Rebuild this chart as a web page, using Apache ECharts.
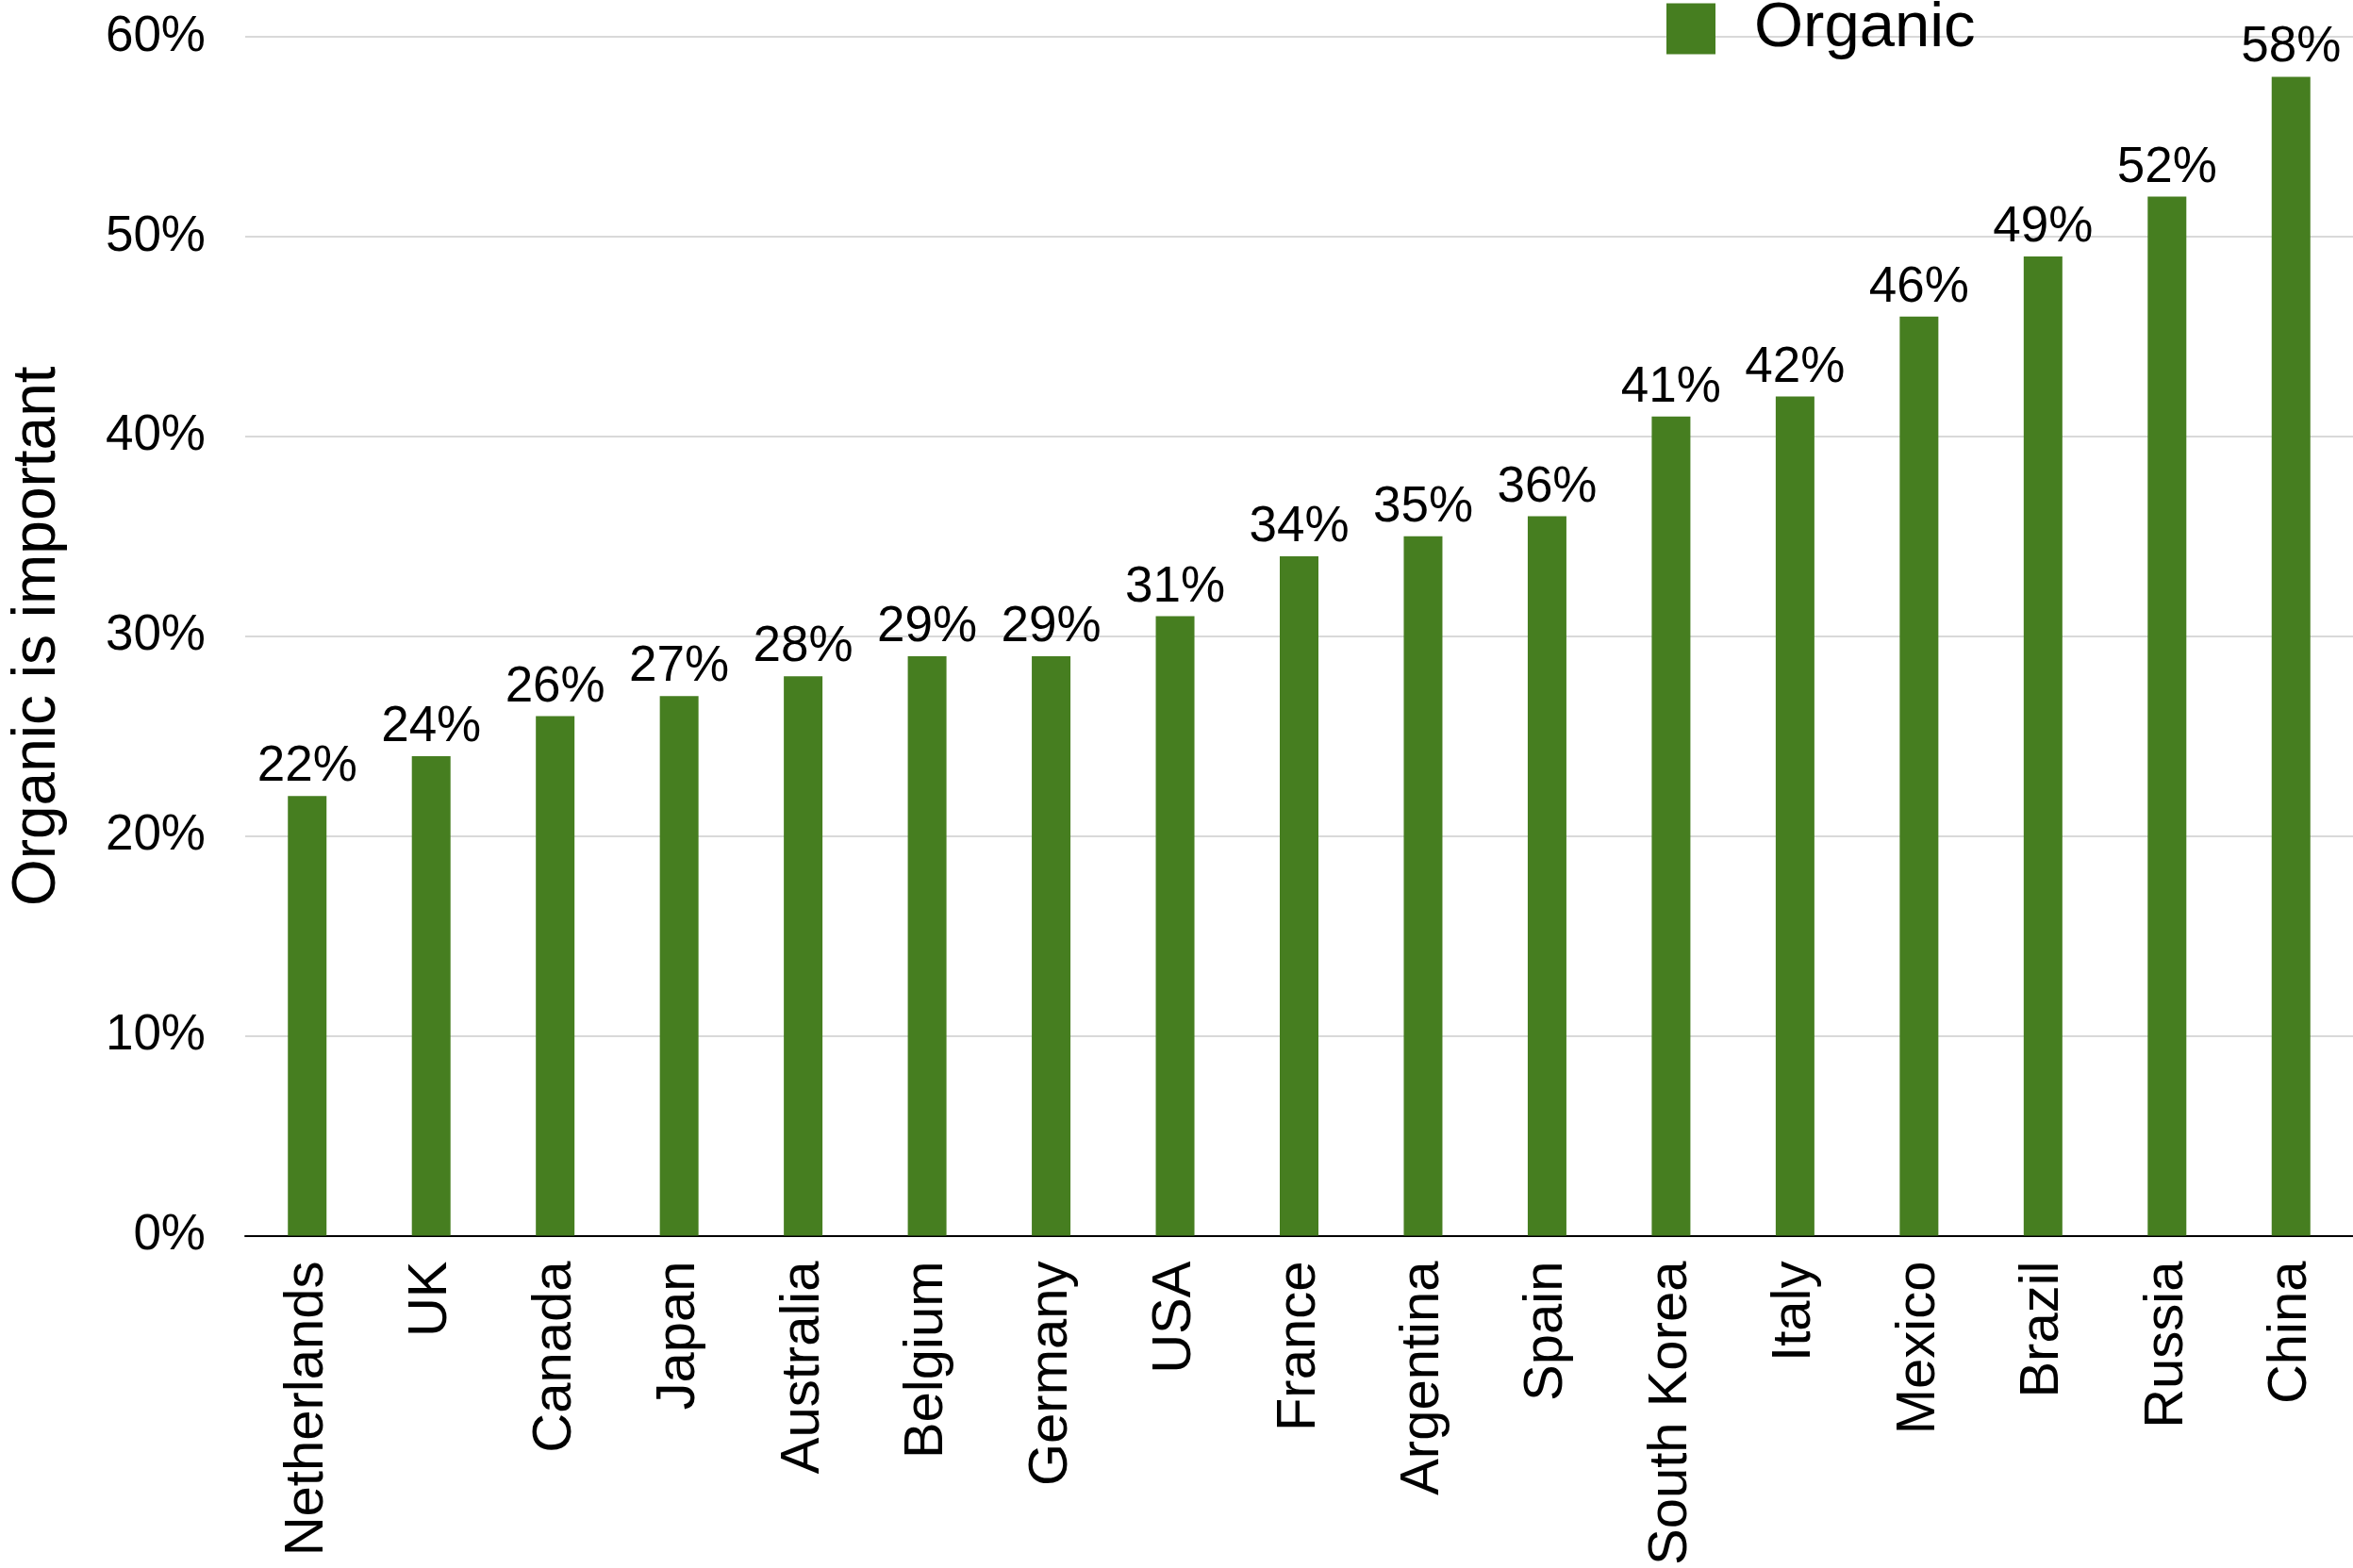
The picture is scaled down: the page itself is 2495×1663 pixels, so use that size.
<!DOCTYPE html>
<html>
<head>
<meta charset="utf-8">
<script src="https://cdn.jsdelivr.net/npm/echarts@6/dist/echarts.min.js"></script>
<style>
  html, body { margin: 0; padding: 0; background: #fff; }
  #chart { width: 2495px; height: 1663px; }
</style>
</head>
<body>
<div id="chart"></div>
<script>
const countries = ['Netherlands', 'UK', 'Canada', 'Japan', 'Australia', 'Belgium', 'Germany', 'USA', 'France',
  'Argentina', 'Spain', 'South Korea', 'Italy', 'Mexico', 'Brazil', 'Russia', 'China']
const organic = [22, 24, 26, 27, 28, 29, 29, 31, 34, 35, 36, 41, 42, 46, 49, 52, 58]
const yTicks = [0, 10, 20, 30, 40, 50, 60]

const font = 'Liberation Sans, Arial, Helvetica, sans-serif'
const green = '#467e20'

const chart = echarts.init(document.getElementById('chart'))

const option = {
  animation: false,
  textStyle: { fontFamily: font },
  legend: {
    data: ['Organic'],
    left: 1767,
    top: -3,
    padding: 0,
    itemWidth: 52,
    itemHeight: 54,
    icon: 'rect',
    textStyle: {
      fontSize: 67,
      color: '#000',
      fontFamily: font,
      padding: [0, 0, 0, 36],
    },
  },
  grid: {
    left: 246,
    right: -5,
    top: 39,
    bottom: 342,
    containLabel: false,
  },
  xAxis: {
    type: 'category',
    data: countries,
    axisTick: { show: false },
    axisLine: { lineStyle: { color: '#000', width: 2 } },
    axisLabel: {
      rotate: 90,
      fontSize: 58,
      color: '#000',
      margin: 27,
      interval: 0,
    },
  },
  yAxis: {
    type: 'value',
    min: yTicks[0],
    max: yTicks[yTicks.length - 1],
    interval: 10,
    name: 'Organic is important',
    nameLocation: 'middle',
    nameGap: 188,
    nameTextStyle: { fontSize: 64, color: '#000' },
    axisLine: { show: false },
    axisTick: { show: false },
    axisLabel: {
      formatter: '{value}%',
      fontSize: 53,
      color: '#000',
      margin: 42,
    },
    splitLine: { lineStyle: { color: '#cccccc', width: 1.5 } },
  },
  series: [
    {
      name: 'Organic',
      type: 'bar',
      data: organic,
      barWidth: 41,
      itemStyle: { color: green },
      label: {
        show: true,
        position: 'top',
        distance: 4,
        formatter: '{c}%',
        fontSize: 53,
        color: '#000',
      },
    },
  ],
}

chart.setOption(option)
</script>
</body>
</html>
